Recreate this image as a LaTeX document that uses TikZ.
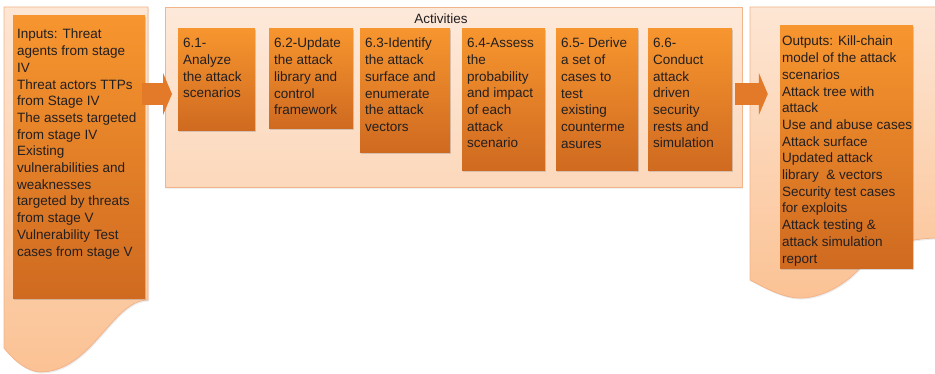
\documentclass[tikz,border=0pt]{standalone}
\usepackage{fontspec}
\setmainfont{Liberation Sans}
\usetikzlibrary{arrows.meta,shadows}
\definecolor{peachtop}{HTML}{FDE6D4}
\definecolor{peachbot}{HTML}{FBC294}
\definecolor{peachline}{HTML}{F2B48A}
\definecolor{acttop}{HTML}{FDE9DA}
\definecolor{actbot}{HTML}{FCD8BB}
\definecolor{boxtop}{HTML}{F7962F}
\definecolor{boxbot}{HTML}{CF6A20}
\definecolor{arrowcol}{HTML}{E27A2A}
\definecolor{ink}{HTML}{231F20}
\begin{document}
\begin{tikzpicture}[x=1pt,y=-1pt,font=\fontsize{13.5}{16.7}\selectfont,
  docshape/.style={draw=peachline,line width=.8pt,top color=peachtop,bottom color=peachbot,
    drop shadow={opacity=.15,shadow xshift=1pt,shadow yshift=-1.5pt}},
  orangebox/.style={top color=boxtop,bottom color=boxbot,anchor=north west,inner sep=0pt,
    drop shadow={opacity=.3,shadow xshift=1pt,shadow yshift=-2pt}},
  boxtext/.style={anchor=north west,inner sep=0pt,align=left,text=ink},
  fatarrow/.style={draw=arrowcol,line width=22pt,-{Triangle[width=42pt,length=9pt]},shorten >=-7pt}]
\useasboundingbox (0,0) rectangle (935,374);
% input and output documents
\draw[docshape] (4,7) -- (148,7) -- (148,300) .. controls (112,300) and (92,372) .. (40,372)
  .. controls (25,371) and (12,358) .. (4,348) -- cycle;
\draw[docshape] (750,7) -- (940,7) -- (940,238) .. controls (900,238) and (876,250) .. (860,268)
  .. controls (845,285) and (820,299) .. (798,298) .. controls (780,297) and (762,286) .. (750,280) -- cycle;
\node[draw=peachline,line width=.8pt,top color=acttop,bottom color=actbot,anchor=north west,inner sep=0pt,
  minimum width=577pt,minimum height=180pt,drop shadow={opacity=.12,shadow xshift=1pt,shadow yshift=-1.5pt}] (act) at (165,7) {};
\node[text=ink] (acttitle) at (441,19) {Activities};
% inputs
\node[orangebox,minimum width=132pt,minimum height=283pt] (inbox) at (13,15) {};
\node[boxtext] (intext) at ([shift={(4,14)}]inbox.north west) {Inputs: Threat\\agents from stage\\IV\\Threat actors TTPs\\from Stage IV\\The assets targeted\\from stage IV\\Existing\\vulnerabilities and\\weaknesses\\targeted by threats\\from stage V\\Vulnerability Test\\cases from stage V};
% activities
\foreach \n/\x/\w/\h/\txt in {1/178/77/102/{6.1-\\Analyze\\the attack\\scenarios},
  2/269/84/100/{6.2-Update\\the attack\\library and\\control\\framework},
  3/360/90/124/{6.3-Identify\\the attack\\surface and\\enumerate\\the attack\\vectors},
  4/462/83/142/{6.4-Assess\\the\\probability\\and impact\\of each\\attack\\scenario},
  5/556/82/142/{6.5- Derive\\a set of\\cases to\\test\\existing\\counterme\\asures},
  6/648/84/142/{6.6-\\Conduct\\attack\\driven\\security\\rests and\\simulation}}{
\node[orangebox,minimum width=\w pt,minimum height=\h pt] (a\n) at (\x,28) {};
\node[boxtext] (t\n) at ([shift={(5,10)}]a\n.north west) {\txt};}
% outputs
\node[orangebox,minimum width=133pt,minimum height=243pt] (outbox) at (780,25) {};
\node[boxtext] (outtext) at ([shift={(2,11)}]outbox.north west) {Outputs: Kill-chain\\model of the attack\\scenarios\\Attack tree with\\attack\\Use and abuse cases\\Attack surface\\Updated attack\\library \ \& vectors\\Security test cases\\for exploits\\Attack testing \&\\attack simulation\\report};
% arrows
\coordinate (inarr) at (142,94);
\coordinate (outarr) at (735,94);
\draw[fatarrow] (inarr) -- (act.west |- inarr);
\draw[fatarrow,shorten >=-25pt] (outarr) -- (act.east |- outarr);
\end{tikzpicture}
\end{document}
